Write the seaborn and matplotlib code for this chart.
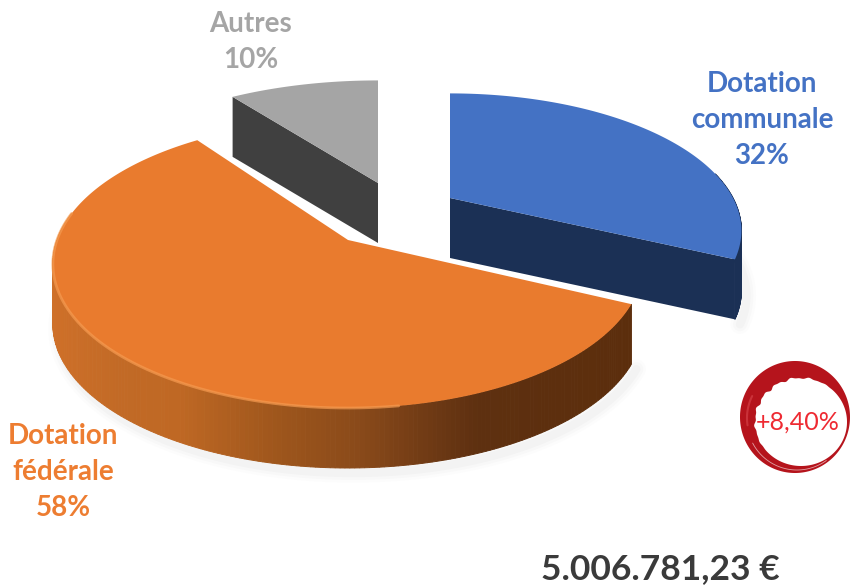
import numpy as np
import matplotlib.pyplot as plt
import matplotlib.colors as mcolors
import seaborn as sns

# data
categories = ['Dotation\ncommunale', 'Dotation\nfédérale', 'Autres']
shares = [32, 58, 10]
total_label = '5.006.781,23 €'
growth_label = '+8,40%'

top_colors = ['#4472C4', '#E97B2E', '#A5A5A5']
cut_colors = ['#1B3055', '#6A3610', '#404040']
text_colors = ['#4472C4', '#ED7D31', '#A5A5A5']

# where each slice sits on the page (pixels): centre x, centre y, radius, squash, perspective
geom = {'Dotation\ncommunale': (450, 198, 283, 129.5, 4.2),
        'Dotation\nfédérale': (348, 240, 291, 140.0, 6.0),
        'Autres': (378, 183, 295, 127.0, 4.2)}
label_pos = {'Dotation\ncommunale': (762, 120), 'Dotation\nfédérale': (63, 472), 'Autres': (251, 42)}

H = 60        # thickness


def project(theta, g):
    cx, cy, R, A, D = g
    x = np.cos(theta)
    y = np.sin(theta)
    s = D / (D + y)
    return cx + R * x * s, cy - A * y * s


def wall_color(x, stops):
    xs = [p[0] for p in stops]
    rgb = np.array([mcolors.to_rgb(p[1]) for p in stops])
    return [np.interp(x, xs, rgb[:, i]) for i in range(3)]


orange_stops = [(50, '#CF7029'), (120, '#C26A26'), (180, '#BF6824'), (280, '#9E561C'),
                (360, '#8A4A1A'), (450, '#683613'), (480, '#5E3010'), (640, '#5C2E0C')]
blue_stops = [(450, '#1B3055'), (745, '#1B3055')]
grey_stops = [(230, '#404040'), (380, '#404040')]
wall_stops = [blue_stops, orange_stops, grey_stops]


def draw_shadow(ax, xs, ys):
    for lw, a in [(14, 0.02), (10, 0.03), (6, 0.04)]:
        ax.plot(np.array(xs) + 5, np.array(ys) + 5, color='#808080', lw=lw, alpha=a,
                solid_capstyle='round', zorder=1)


def draw_slice(ax, cat, start, end, top, cut, stops, z):
    g = geom[cat]
    cx, cy = g[0], g[1]
    th = np.radians(np.linspace(start, end, 260))
    ex, ey = project(th, g)
    bx, by = ex, ey + H

    # outer wall, only the part that faces us
    front = np.sin(th) < 0.2
    if cat != 'Autres':
        draw_shadow(ax, bx[front], by[front])
    for i in range(len(th) - 1):
        if front[i] and front[i + 1]:
            ax.fill([ex[i], ex[i + 1], bx[i + 1], bx[i]], [ey[i], ey[i + 1], by[i + 1], by[i]],
                    color=wall_color(ex[i], stops), lw=0.7, zorder=z)

    # cut wall, the edge of the slice that faces us
    if cat != 'Dotation\nfédérale':
        k = 0 if cat == 'Autres' else -1
        ax.fill([cx, ex[k], ex[k], cx], [cy, ey[k], ey[k] + H, cy + H], color=cut, lw=0, zorder=z)

    # top face
    ax.fill(np.r_[cx, ex], np.r_[cy, ey], color=top, lw=0, zorder=z + 1)
    if cat == 'Dotation\nfédérale':
        rim = front & (ex < 400)
        ax.plot(ex[rim], ey[rim], color='#F59A50', alpha=0.7, lw=2, zorder=z + 1)


sns.set_theme(style='white')
plt.rcParams['font.family'] = ['Lato', 'DejaVu Sans']

fig, ax = plt.subplots(figsize=(8.52, 5.87), dpi=100)
ax.set_position([0, 0, 1, 1])
ax.set_xlim(0, 852)
ax.set_ylim(587, 0)
ax.axis('off')

# slices clockwise from the top, angles come from the shares
angle = 90.0
order_z = {'Dotation\ncommunale': 3, 'Dotation\nfédérale': 6, 'Autres': 2}
for cat, share, top, cut, stops in zip(categories, shares, top_colors, cut_colors, wall_stops):
    sweep = share / sum(shares) * 360
    draw_slice(ax, cat, angle, angle - sweep, top, cut, stops, order_z[cat])
    angle -= sweep

for cat, share, col in zip(categories, shares, text_colors):
    x, y = label_pos[cat]
    ax.text(x, y, f'{cat}\n{share}%', color=col, fontsize=20, fontweight='bold', ha='center', va='center',
            linespacing=1.46, zorder=10)

# brush ring around the growth figure, inner edge rough only where the stroke is thick
t = np.linspace(0, 2 * np.pi, 400)
thick = np.clip(-np.sin(t + np.pi / 4), 0, 1)
rough = thick * (1.0 * np.sin(17 * t) + 0.6 * np.sin(31 * t + 1))
ox, oy = 795 + 55 * np.cos(t), 417 + 56 * np.sin(t)
ix, iy = 801 + (46 + rough) * np.cos(t), 422 + (44 + rough) * np.sin(t)
ax.fill(np.r_[ox, ix[::-1]], np.r_[oy, iy[::-1]], color='#B5141C', lw=0, zorder=8)
ax.plot(797 + 50 * np.cos(t[60:170]), 420 + 50 * np.sin(t[60:170]), color='white', lw=0.6, alpha=0.6, zorder=9)
ax.plot(796 + 49 * np.cos(t[190:230]), 418 + 49 * np.sin(t[190:230]), color='#D9474D', lw=1.5, alpha=0.6, zorder=9)
ax.text(798, 422, growth_label, color='#EE2A32', fontsize=18, ha='center', va='center', zorder=10)

ax.text(660, 569, total_label, color='#3A3A3A', fontsize=25.5, fontweight='bold', ha='center', va='center', zorder=10)

fig.savefig('out.png', dpi=100)
